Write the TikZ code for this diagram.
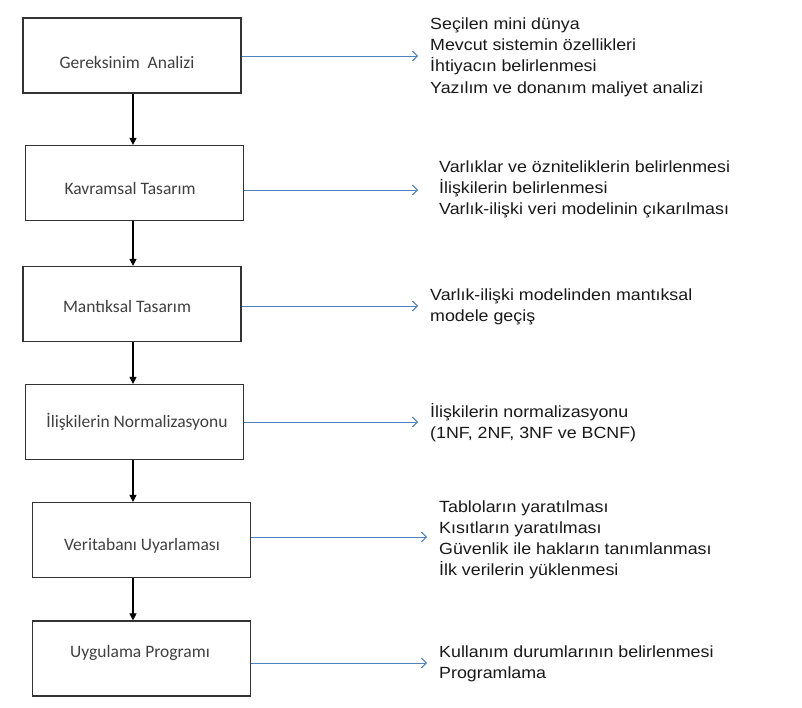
\documentclass[tikz,border=0pt]{standalone}
\usepackage{fontspec}
\setmainfont{Liberation Sans}[FakeStretch=1.1]
\newfontfamily\boxfont{Carlito}
\usetikzlibrary{arrows.meta}
\definecolor{bluearrow}{HTML}{4F81BD}
\definecolor{boxtext}{HTML}{404040}
\begin{document}
\begin{tikzpicture}[x=1pt,y=-1pt,
  stepbox/.style={draw=black!80,line width=1.2pt,minimum width=218pt,minimum height=75pt,inner sep=0pt},
  steptext/.style={font=\boxfont\fontsize{17.5}{20}\selectfont,text=boxtext,inner sep=0pt},
  flow/.style={line width=1.1pt,black,-{Triangle[length=7pt,width=7pt]}},
  outarrow/.style={bluearrow,line width=0.9pt,-{Straight Barb[length=5pt,width=10pt]}},
  item/.style={font=\fontsize{16.2}{18}\selectfont,anchor=base west,inner sep=0pt,text=black!90}]
\useasboundingbox (0,0) rectangle (802,708);
\fill[white] (0,0) rectangle (802,708);
% boxes
\node[stepbox] (b1) at (132,55.5) {};
\node[stepbox] (b2) at (134.5,183) {};
\node[stepbox] (b3) at (132,304) {};
\node[stepbox] (b4) at (134.5,422) {};
\node[stepbox] (b5) at (141.5,540) {};
\node[stepbox] (b6) at (141.5,658.5) {};
\node[steptext] (t1) at (127,62) {Gereksinim\ \ Analizi};
\node[steptext] (t2) at (130,188) {Kavramsal Tasarım};
\node[steptext] (t3) at (127,306) {Mantıksal Tasarım};
\node[steptext] (t4) at (137,422) {İlişkilerin Normalizasyonu};
\node[steptext] (t5) at (142,546) {Veritabanı Uyarlaması};
\node[steptext] (t6) at (140,653) {Uygulama Programı};
% vertical flow
\coordinate (ax) at (133,0);
\draw[flow] (b1.south -| ax) -- (b2.north -| ax);
\draw[flow] (b2.south -| ax) -- (b3.north -| ax);
\draw[flow] (b3.south -| ax) -- (b4.north -| ax);
\draw[flow] (b4.south -| ax) -- (b5.north -| ax);
\draw[flow] (b5.south -| ax) -- (b6.north -| ax);
% blue arrows
\coordinate (e1) at (418,56);
\coordinate (e2) at (418,190);
\coordinate (e3) at (418,306);
\coordinate (e4) at (418,422);
\coordinate (e5) at (427,537);
\coordinate (e6) at (427,663);
\draw[outarrow] (b1.east |- e1) -- (e1);
\draw[outarrow] (b2.east |- e2) -- (e2);
\draw[outarrow] (b3.east |- e3) -- (e3);
\draw[outarrow] (b4.east |- e4) -- (e4);
\draw[outarrow] (b5.east |- e5) -- (e5);
\draw[outarrow] (b6.east |- e6) -- (e6);
% texts
\node[item] (l11) at (430,30) {Seçilen mini dünya};
\node[item] (l12) at (430,51) {Mevcut sistemin özellikleri};
\node[item] (l13) at (430,72) {İhtiyacın belirlenmesi};
\node[item] (l14) at (430,94) {Yazılım ve donanım maliyet analizi};
\node[item] (l21) at (439,173) {Varlıklar ve özniteliklerin belirlenmesi};
\node[item] (l22) at (439,194) {İlişkilerin belirlenmesi};
\node[item] (l23) at (439,215) {Varlık-ilişki veri modelinin çıkarılması};
\node[item] (l31) at (430,300) {Varlık-ilişki modelinden mantıksal};
\node[item] (l32) at (430,321) {modele geçiş};
\node[item] (l41) at (430,417) {İlişkilerin normalizasyonu};
\node[item] (l42) at (430,438) {(1NF, 2NF, 3NF ve BCNF)};
\node[item] (l51) at (439,512) {Tabloların yaratılması};
\node[item] (l52) at (439,533) {Kısıtların yaratılması};
\node[item] (l53) at (439,554) {Güvenlik ile hakların tanımlanması};
\node[item] (l54) at (439,575) {İlk verilerin yüklenmesi};
\node[item] (l61) at (439,657) {Kullanım durumlarının belirlenmesi};
\node[item] (l62) at (439,678) {Programlama};
\end{tikzpicture}
\end{document}
